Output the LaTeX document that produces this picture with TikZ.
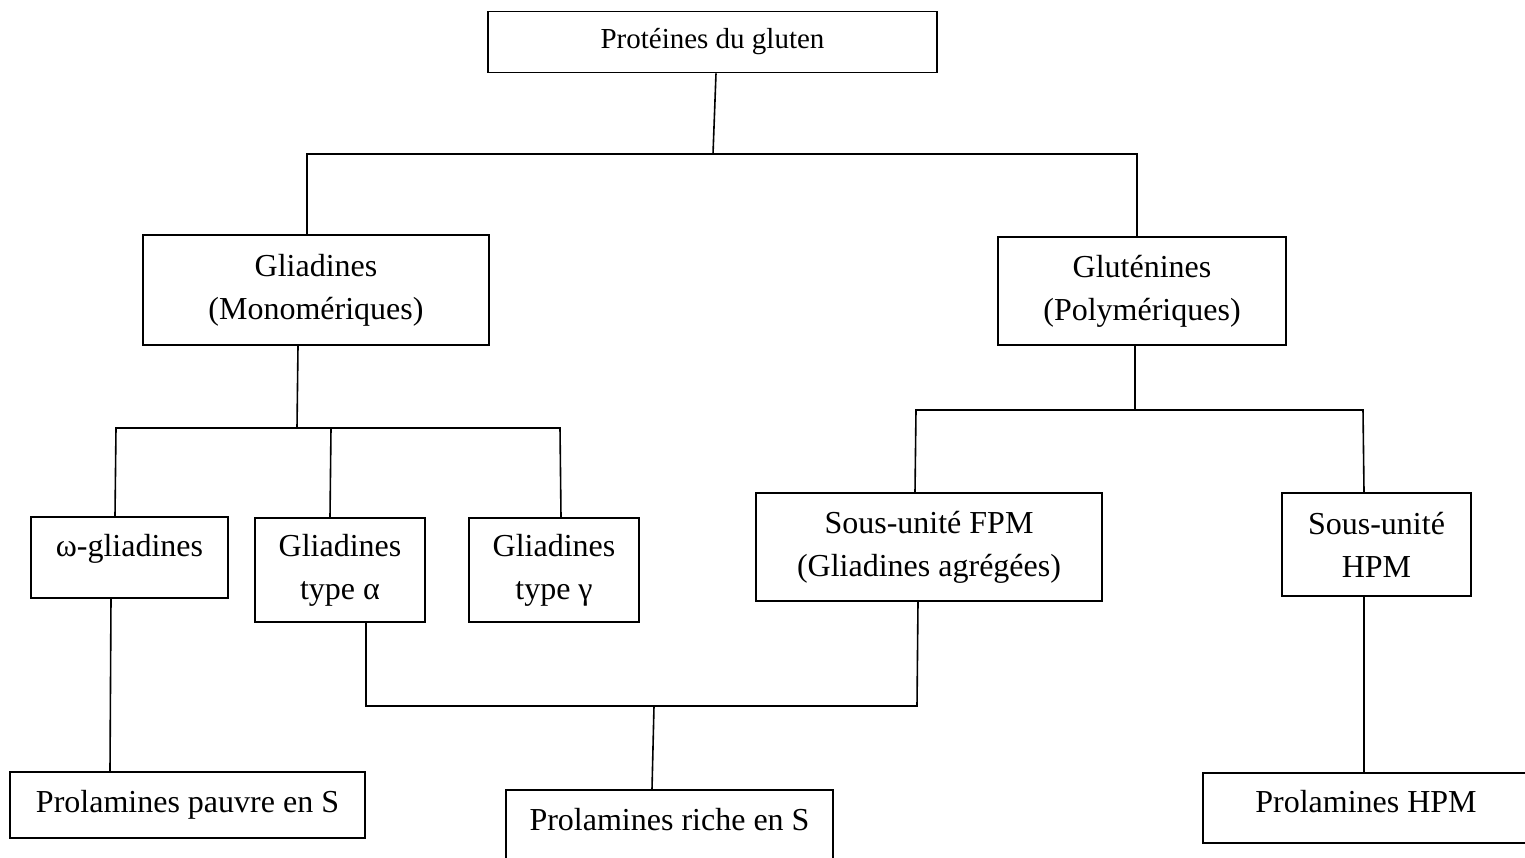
\documentclass[tikz,border=0pt]{standalone}
\usepackage{fontspec}
\setmainfont{Liberation Serif}
\begin{document}
\begin{tikzpicture}[x=1pt,y=-1pt,
  box/.style={draw,line width=1.6pt,rectangle,inner sep=0pt,align=center,
    font=\fontsize{32}{43}\selectfont},
  link/.style={line width=1.6pt}]
\useasboundingbox (0,0) rectangle (1525,857);

% boxes
\node[box,minimum width=449pt,minimum height=61pt,font=\fontsize{29}{34}\selectfont]
  (top) at (712.5,42) {Protéines du gluten};
\node[box,minimum width=346pt,minimum height=110pt] (glia) at (316,290)
  {Gliadines\\(Monomériques)};
\node[box,minimum width=288pt,minimum height=108pt] (glut) at (1142,291)
  {Gluténines\\(Polymériques)};
\node[box,minimum width=197pt,minimum height=81pt,
  label={[font=\fontsize{32}{43}\selectfont,yshift=9pt]center:ω-gliadines}]
  (omega) at (129.5,557.5) {};
\node[box,minimum width=170pt,minimum height=104pt] (alpha) at (340,570)
  {Gliadines\\type α};
\node[box,minimum width=170pt,minimum height=104pt] (gamma) at (554,570)
  {Gliadines\\type γ};
\node[box,minimum width=346pt,minimum height=108pt] (fpm) at (929,547)
  {Sous-unité FPM\\(Gliadines agrégées)};
\node[box,minimum width=189pt,minimum height=103pt] (hpm) at (1376.5,544.5)
  {Sous-unité\\HPM};
\node[box,minimum width=355pt,minimum height=66pt] (pauvre) at (187.5,805)
  {Prolamines pauvre en S};
\node[box,minimum width=327pt,minimum height=80pt,
  label={[font=\fontsize{32}{43}\selectfont,yshift=10pt]center:Prolamines riche en S}]
  (riche) at (669.5,830) {};
\node[box,minimum width=326pt,minimum height=70pt,
  label={[font=\fontsize{32}{43}\selectfont,yshift=6pt]center:Prolamines HPM}]
  (prolhpm) at (1366,808) {};

% junction points
\coordinate (j0) at (713,154);
\coordinate (a1) at (307,154);
\coordinate (a2) at (1137,154);
\coordinate (b0) at (297,428);
\coordinate (b1) at (116,428);
\coordinate (b2) at (331,428);
\coordinate (b3) at (560,428);
\coordinate (c0) at (1135,410);
\coordinate (c1) at (916,410);
\coordinate (c2) at (1363,410);
\coordinate (d1) at (366,706);
\coordinate (d2) at (917,706);
\coordinate (d0) at (654,706);

% connectors
\draw[link] ([xshift=3.5pt]top.south) -- (j0);
\draw[link] ([xshift=-9pt]glia.north) -- (a1) -- (a2) -- ([xshift=-5pt]glut.north);
\draw[link] ([xshift=-18pt]glia.south) -- (b0);
\draw[link] ([xshift=-14.5pt]omega.north) -- (b1) -- (b3) -- ([xshift=7pt]gamma.north);
\draw[link] (b2) -- ([xshift=-10pt]alpha.north);
\draw[link] ([xshift=-7pt]glut.south) -- (c0);
\draw[link] ([xshift=-14pt]fpm.north) -- (c1) -- (c2) -- ([xshift=-12.5pt]hpm.north);
\draw[link] ([xshift=-18.5pt]omega.south) -- ([xshift=-77.5pt]pauvre.north);
\draw[link] ([xshift=26pt]alpha.south) -- (d1) -- (d2) -- ([xshift=-11pt]fpm.south);
\draw[link] (d0) -- ([xshift=-17.5pt]riche.north);
\draw[link] ([xshift=-12.5pt]hpm.south) -- ([xshift=-2pt]prolhpm.north);
\end{tikzpicture}
\end{document}
